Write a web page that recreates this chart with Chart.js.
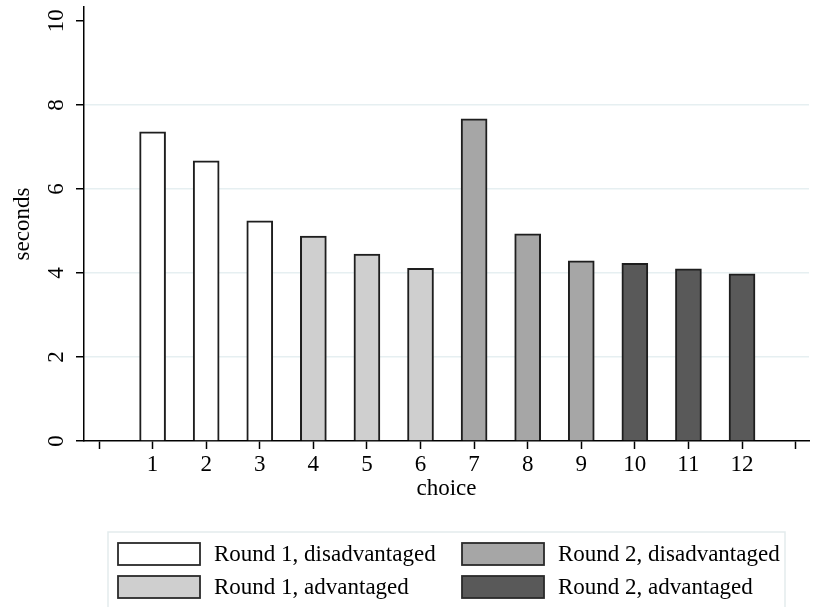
<!DOCTYPE html>
<html>
<head>
<meta charset="utf-8">
<script src="https://cdn.jsdelivr.net/npm/chart.js@4"></script>
<style>
  html, body { margin: 0; padding: 0; background: #fff; }
  #wrap { width: 817px; height: 607px; }
</style>
</head>
<body>
<div id="wrap"><canvas id="chart" width="817" height="607"></canvas></div>
<script>
// data
const choices = [1, 2, 3, 4, 5, 6, 7, 8, 9, 10, 11, 12];
const seconds = [7.36, 6.67, 5.24, 4.88, 4.45, 4.11, 7.67, 4.93, 4.29, 4.23, 4.10, 3.98];
const groupOfChoice = [0, 0, 0, 1, 1, 1, 2, 2, 2, 3, 3, 3];
const groupNames = ["Round 1, disadvantaged", "Round 1, advantaged", "Round 2, disadvantaged", "Round 2, advantaged"];
const groupColors = ["#ffffff", "#cfcfcf", "#a6a6a6", "#595959"];
const xTickValues = [0, 1, 2, 3, 4, 5, 6, 7, 8, 9, 10, 11, 12, 13];
const xTickLabels = ["", "1", "2", "3", "4", "5", "6", "7", "8", "9", "10", "11", "12", ""];
const yTickValues = [0, 2, 4, 6, 8, 10];

const FONT = "'Liberation Serif', 'Times New Roman', serif";

const datasets = groupNames.map((name, g) => ({
  label: name,
  data: choices
    .map((c, i) => ({ x: c, y: seconds[i], g: groupOfChoice[i] }))
    .filter(p => p.g === g),
  backgroundColor: groupColors[g],
  borderColor: "#1e1e1e",
  borderWidth: 2,
  barThickness: 26,
  grouped: false
}));

// legend drawn in the reserved bottom area (two columns, Stata style)
const legendOrder = [[0, 2], [1, 3]];
const stataLegend = {
  id: "stataLegend",
  afterDraw(chart) {
    const ctx = chart.ctx;
    ctx.save();
    ctx.strokeStyle = "#e3ebed";
    ctx.lineWidth = 1.5;
    ctx.strokeRect(108, 532, 677, 90);
    const colX = [118, 462];
    const rowY = [543, 576];
    ctx.font = "23px " + FONT;
    ctx.textBaseline = "middle";
    legendOrder.forEach((row, r) => {
      row.forEach((di, c) => {
        const ds = chart.data.datasets[di];
        ctx.fillStyle = ds.backgroundColor;
        ctx.fillRect(colX[c], rowY[r], 82, 22);
        ctx.strokeStyle = "#2a2a2a";
        ctx.lineWidth = 1.8;
        ctx.strokeRect(colX[c], rowY[r], 82, 22);
        ctx.fillStyle = "#000";
        ctx.fillText(ds.label, colX[c] + 96, rowY[r] + 12);
      });
    });
    ctx.restore();
  }
};

new Chart(document.getElementById("chart"), {
  type: "bar",
  data: { datasets },
  plugins: [stataLegend],
  options: {
    responsive: false,
    animation: false,
    layout: { padding: { left: 0, right: 8, top: 7, bottom: 80 } },
    plugins: { legend: { display: false }, tooltip: { enabled: false } },
    scales: {
      x: {
        type: "linear",
        offset: false,
        min: -0.28,
        max: 13.25,
        afterBuildTicks: scale => { scale.ticks = xTickValues.map(v => ({ value: v })); },
        afterFit: scale => { scale.height = 86; },
        ticks: {
          callback: (v, i) => xTickLabels[i],
          font: { family: FONT, size: 23 },
          color: "#000",
          padding: 2,
          maxRotation: 0,
          autoSkip: false
        },
        grid: { offset: false, drawOnChartArea: false, drawTicks: true, tickLength: 8, tickColor: "#000", tickWidth: 1.5 },
        border: { color: "#000", width: 1.5 },
        title: {
          display: true,
          text: "choice",
          font: { family: FONT, size: 23 },
          color: "#000",
          padding: { top: 0, bottom: 24 }
        }
      },
      y: {
        min: 0,
        max: 10.33,
        afterBuildTicks: scale => { scale.ticks = yTickValues.map(v => ({ value: v })); },
        afterFit: scale => {
          scale.width = 84;
          scale.paddingTop = 0;
          scale.paddingBottom = 0;
        },
        ticks: {
          font: { family: FONT, size: 23 },
          color: "#000",
          minRotation: 90,
          maxRotation: 90,
          crossAlign: "center",
          padding: 8
        },
        grid: {
          color: c => (c.tick && (c.tick.value === 0 || c.tick.value === 10)) ? "rgba(0,0,0,0)" : "#e6eff1",
          lineWidth: 1.5,
          tickLength: 8,
          tickColor: "#000",
          tickWidth: 1.5
        },
        border: { color: "#000", width: 1.5 },
        title: {
          display: true,
          text: "seconds",
          font: { family: FONT, size: 23 },
          color: "#000",
          padding: { top: 9, bottom: 0 }
        }
      }
    }
  }
});
</script>
</body>
</html>
